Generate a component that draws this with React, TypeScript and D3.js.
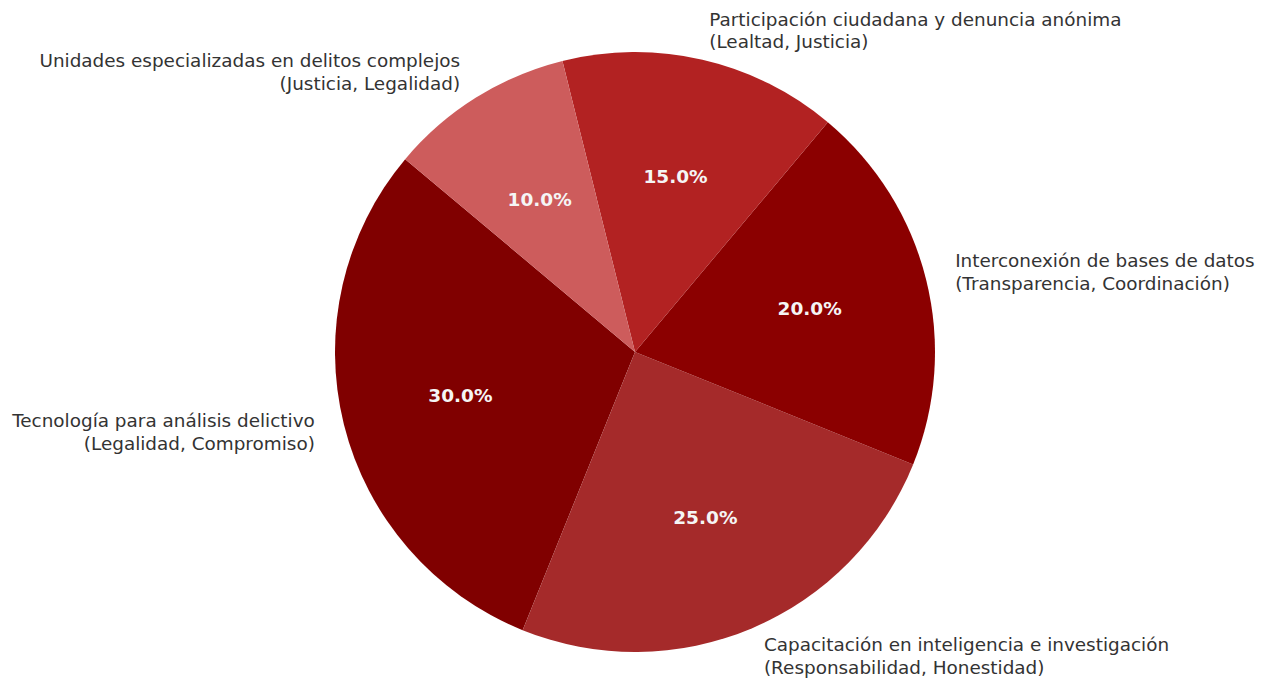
import React, { useRef, useEffect } from "react";
import * as d3 from "d3";

const labels = [
  ["Tecnología para análisis delictivo", "(Legalidad, Compromiso)"],
  ["Capacitación en inteligencia e investigación", "(Responsabilidad, Honestidad)"],
  ["Interconexión de bases de datos", "(Transparencia, Coordinación)"],
  ["Participación ciudadana y denuncia anónima", "(Lealtad, Justicia)"],
  ["Unidades especializadas en delitos complejos", "(Justicia, Legalidad)"],
];
const values = [30, 25, 20, 15, 10];
const colors = ["#800000", "#a52a2a", "#8b0000", "#b22222", "#cd5c5c"];

const App = () => {
  const ref = useRef<SVGSVGElement>(null);

  useEffect(() => {
    const width = 1275;
    const height = 682;
    const cx = 635;
    const cy = 352;
    const r = 300;
    const svg = d3.select(ref.current);
    svg.selectAll("*").remove();

    // matplotlib-style: start at 140deg, counterclockwise
    const startDeg = 140;
    const total = d3.sum(values);
    const angleScale = d3.scaleLinear().domain([0, total]).range([startDeg, startDeg + 360]);
    let acc = 0;
    const slices = values.map((v, i) => {
      const a0 = angleScale(acc);
      acc += v;
      const a1 = angleScale(acc);
      return { i, v, a0, a1 };
    });

    // convert math angle (deg, ccw from +x) to d3 arc angle (rad, cw from 12 o'clock)
    const toD3 = (deg: number) => ((90 - deg) * Math.PI) / 180;
    const arc = d3.arc<any>().innerRadius(0).outerRadius(r);

    const g = svg.append("g").attr("transform", `translate(${cx},${cy})`);

    g.selectAll("path.slice")
      .data(slices)
      .join("path")
      .attr("class", "slice")
      .attr("d", (d) => arc({ startAngle: toD3(d.a1), endAngle: toD3(d.a0) }) as string)
      .attr("fill", (d) => colors[d.i]);

    const font = "'DejaVu Sans', sans-serif";

    slices.forEach((d) => {
      const mid = ((d.a0 + d.a1) / 2) * (Math.PI / 180);
      const px = Math.cos(mid) * r * 0.6;
      const py = -Math.sin(mid) * r * 0.6;
      g.append("text")
        .attr("x", px)
        .attr("y", py)
        .attr("text-anchor", "middle")
        .attr("dominant-baseline", "central")
        .attr("font-family", font)
        .attr("font-weight", "bold")
        .attr("font-size", 18.5)
        .attr("fill", "#f5f5f5")
        .text(`${((d.v / total) * 100).toFixed(1)}%`);

      const lx = Math.cos(mid) * r * 1.1;
      const ly = -Math.sin(mid) * r * 1.1;
      const anchor = lx > 0 ? "start" : "end";
      const lines = labels[d.i];
      const lh = 22.5;
      lines.forEach((line, k) => {
        g.append("text")
          .attr("x", lx)
          .attr("y", ly + (k - (lines.length - 1) / 2) * lh)
          .attr("text-anchor", anchor)
          .attr("dominant-baseline", "central")
          .attr("font-family", font)
          .attr("font-size", 18.4)
          .attr("fill", "#333333")
          .text(line);
      });
    });

    svg.attr("width", width).attr("height", height);
  }, []);

  return (
    <svg
      ref={ref}
      width={1275}
      height={682}
      style={{ position: "absolute", left: 0, top: 0, background: "#ffffff" }}
    />
  );
};

export default App;
